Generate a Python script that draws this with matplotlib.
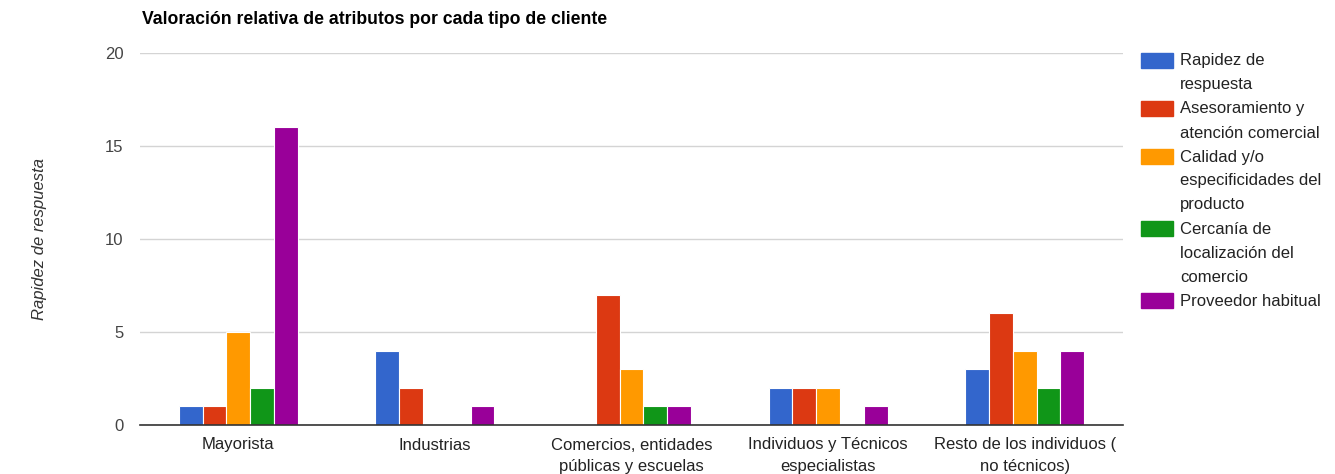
import matplotlib.pyplot as plt
from matplotlib.patches import Rectangle
import numpy as np

plt.rcParams['font.family'] = ['Liberation Sans', 'DejaVu Sans']

categorias = ['Mayorista', 'Industrias', 'Comercios, entidades\npúblicas y escuelas',
              'Individuos y Técnicos\nespecialistas', 'Resto de los individuos (\nno técnicos)']
series = ['Rapidez de\nrespuesta', 'Asesoramiento y\natención comercial',
          'Calidad y/o\nespecificidades del\nproducto', 'Cercanía de\nlocalización del\ncomercio',
          'Proveedor habitual']
rapidez = [1, 4, 0, 2, 3]
asesoramiento = [1, 2, 7, 2, 6]
calidad = [5, 0, 3, 2, 4]
cercania = [2, 0, 1, 0, 2]
proveedor = [16, 1, 1, 1, 4]
valores = [rapidez, asesoramiento, calidad, cercania, proveedor]
colores = ['#3366cc', '#dc3912', '#ff9900', '#109618', '#990099']

W, H = 1335, 474
fig = plt.figure(figsize=(W / 100, H / 100), dpi=100)
ax = fig.add_axes([140 / W, 1 - 425 / H, 983 / W, 372 / H])

x = np.arange(len(categorias))
ancho = 0.121
for i, (v, c) in enumerate(zip(valores, colores)):
    ax.bar(x + (i - 2) * ancho, v, ancho, color=c, edgecolor='white', linewidth=0.8, zorder=3)

ax.set_xlim(-0.5, len(categorias) - 0.5)
ax.set_ylim(0, 20)
ax.set_yticks([0, 5, 10, 15, 20])
ax.set_xticks(x)
ax.set_xticklabels(categorias, fontsize=12, color='#222222', linespacing=1.55)
ax.tick_params(axis='y', length=0, pad=12, labelsize=12, labelcolor='#444444')
ax.tick_params(axis='x', length=0, pad=9)
ax.grid(axis='y', color='#d4d4d4', linewidth=1, zorder=0)
for s in ['top', 'right', 'left']:
    ax.spines[s].set_visible(False)
ax.spines['bottom'].set_color('#333333')
ax.spines['bottom'].set_linewidth(1.2)
ax.spines['bottom'].set_zorder(4)

fig.text(142 / W, 1 - 20 / H, 'Valoración relativa de atributos por cada tipo de cliente',
         fontsize=12.7, fontweight='bold', color='#000000', va='center', ha='left')
fig.text(40 / W, 1 - 239 / H, 'Rapidez de respuesta', rotation=90, style='italic',
         fontsize=12, color='#333333', va='center', ha='center')

# leyenda dibujada a mano: cuadro alineado con la primera línea de cada etiqueta
y = 53
for lab, c in zip(series, colores):
    fig.patches.append(Rectangle((1141 / W, 1 - (y + 15) / H), 32 / W, 15 / H,
                                 color=c, transform=fig.transFigure, figure=fig))
    for k, linea in enumerate(lab.split('\n')):
        fig.text(1180 / W, 1 - (y + 8 + 24 * k) / H, linea, fontsize=12,
                 color='#222222', va='center', ha='left')
    y += 24 * len(lab.split('\n'))

fig.savefig('out.png', dpi=100)
